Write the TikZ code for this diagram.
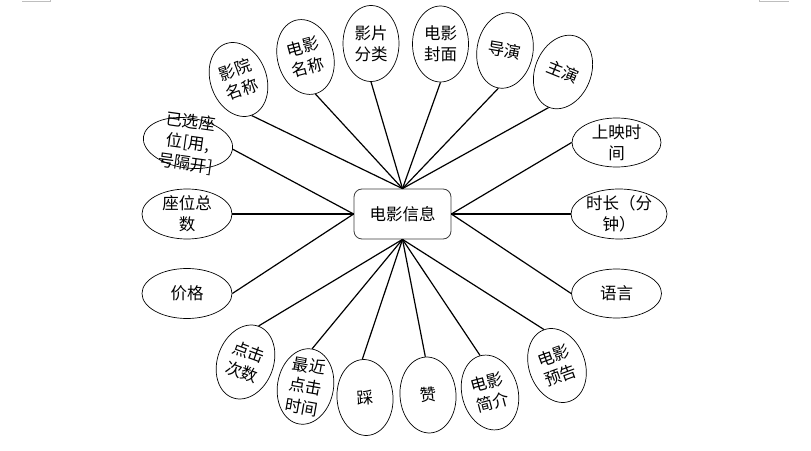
\documentclass[tikz,border=0pt]{standalone}
\usepackage{fontspec}
\usepackage{xcolor}
\usepackage{tikz}
\usetikzlibrary{shapes.geometric, positioning}
\newfontfamily\cjk{Noto Sans CJK SC}
\definecolor{boxline}{RGB}{60, 60, 60}
\definecolor{marklight}{RGB}{190, 190, 190}

\begin{document}
\begin{tikzpicture}[
    x=1pt, y=1pt,
    entity/.style={rectangle, rounded corners=8pt, draw=boxline, line width=0.8pt, minimum width=97pt, minimum height=50pt, font=\cjk\fontsize{16.5}{21}\selectfont},
    attr/.style={ellipse, draw=black, line width=0.7pt, inner sep=-15pt, align=center, font=\cjk\fontsize{16.5}{21}\selectfont},
    vattr/.style={attr, minimum width=56pt, minimum height=76pt},
    hattr/.style={attr, minimum width=90pt, minimum height=50pt},
    link/.style={line width=1.2pt, black}
]
    \useasboundingbox (0,0) rectangle (811,450);
    % page marks
    \draw[marklight, line width=0.6pt] (22,449) -- (50,449) -- (50,450);
    \draw[marklight, line width=0.6pt] (759,450) -- (759,449) -- (789,449);

    % Entity
    \node[entity] (movie) at (402.5,236) {电影信息};

    % Attributes, top
    \node[vattr, rotate=20] (cinema) at (238.5,370.5) {影院\\名称};
    \node[vattr, rotate=15] (title) at (305.5,393) {电影\\名称};
    \node[vattr] (genre) at (371,406.5) {影片\\分类};
    \node[vattr] (cover) at (440.5,406) {电影\\封面};
    \node[vattr, rotate=-10] (director) at (505,399.5) {导演};
    \node[vattr, rotate=-22] (actor) at (563,378) {主演};

    % Attributes, sides
    \node[hattr, rotate=-8] (chosen) at (188,307) {已选座\\位[用,\\号隔开]};
    \node[hattr] (seats) at (187,236) {座位总\\数};
    \node[hattr] (price) at (187,156.5) {价格};
    \node[hattr, minimum width=89pt, minimum height=49pt] (release) at (616.5,307.5) {上映时\\间};
    \node[hattr, minimum width=96pt] (duration) at (619,236) {时长（分\\钟）};
    \node[hattr, minimum height=49pt] (language) at (616.5,156.5) {语言};

    % Attributes, bottom
    \node[vattr, rotate=-20] (clicks) at (245.5,88) {点击\\次数};
    \node[vattr, rotate=-10] (lastclick) at (305.5,63.5) {最近\\点击\\时间};
    \node[vattr, rotate=4] (dislike) at (365,52.5) {踩};
    \node[vattr, rotate=4] (like) at (428,55) {赞};
    \node[vattr, rotate=15] (intro) at (490,57.5) {电影\\简介};
    \node[vattr, rotate=20] (trailer) at (557,84.5) {电影\\预告};

    % Links
    \foreach \a in {cinema, title, genre, cover, director, actor}
        \draw[link] (\a.south) -- (movie.north);
    \foreach \a in {clicks, lastclick, dislike, like, intro, trailer}
        \draw[link] (\a.north) -- (movie.south);
    \foreach \a in {chosen, seats, price}
        \draw[link] (\a.east) -- (movie.west);
    \foreach \a in {release, duration, language}
        \draw[link] (\a.west) -- (movie.east);
\end{tikzpicture}
\end{document}
